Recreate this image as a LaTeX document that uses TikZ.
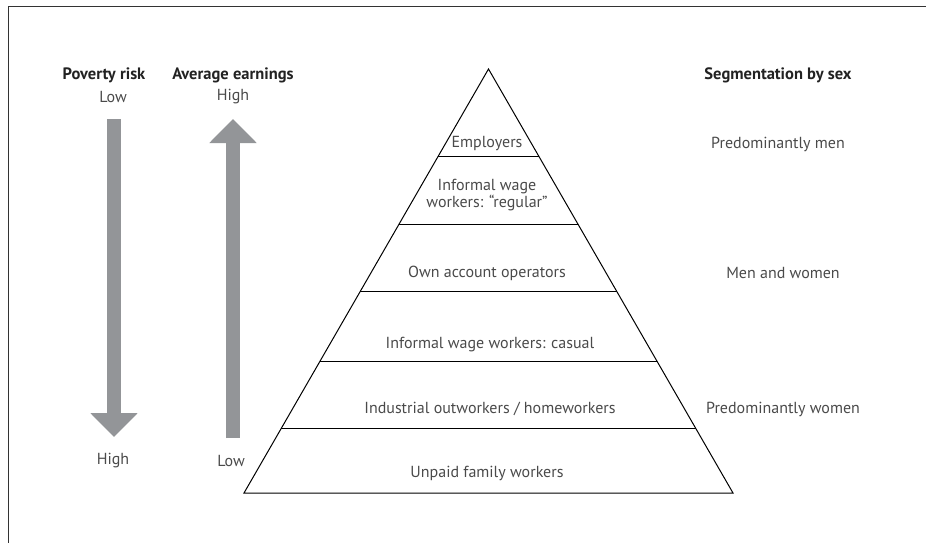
\documentclass[tikz,border=0pt]{standalone}
\usepackage{fontspec}
\setmainfont{PT Sans}
\usetikzlibrary{arrows.meta,calc}
\definecolor{arrowgray}{HTML}{939598}
\definecolor{txtgray}{HTML}{4A4A4A}
\definecolor{headgray}{HTML}{222222}
\tikzset{
  lbl/.style={font=\fontsize{16}{17}\selectfont, text=txtgray, align=center, inner sep=0pt},
  head/.style={font=\bfseries\fontsize{16.5}{18}\selectfont, text=headgray, inner sep=0pt},
  bigarrow/.style={draw=arrowgray, line width=14pt, -{Triangle[width=46pt,length=24pt]}},
  pyr/.style={draw=black, line width=1pt, line join=miter},
  tier/.style={draw=black, line width=1pt}
}
\begin{document}
\begin{tikzpicture}[x=1pt,y=-1pt]
\useasboundingbox (0,0) rectangle (926,543);
% frame
\draw[line width=1pt, black!80] (8,543) -- (8,7) -- (926,7);
% headings
\node[head] (pov) at (104,75) {Poverty risk};
\node[lbl] (povlow) at (113,97) {Low};
\node[head] (avg) at (233,75) {Average earnings};
\node[lbl] (avghigh) at (233,97) {High};
\node[lbl] (povhigh) at (113,461) {High};
\node[lbl] (avglow) at (231,461) {Low};
\node[head] (seg) at (778,75) {Segmentation by sex};
% arrows
\coordinate (pa) at (114,119);
\coordinate (pb) at (114,437);
\coordinate (ea) at (233,438);
\coordinate (eb) at (233,119);
\draw[bigarrow] (pa) -- (pb);
\draw[bigarrow] (ea) -- (eb);
% pyramid
\coordinate (A) at (488.5,69);
\coordinate (BL) at (244,493);
\coordinate (BR) at (733,493);
\draw[pyr] (A) -- (BL) -- (BR) -- cycle;
\foreach \f [count=\i] in {0.2075,0.3656,0.5236,0.6887,0.8467}{
  \draw[tier] ($(A)!\f!(BL)$) -- ($(A)!\f!(BR)$);
}
% tier labels
\node[lbl] (t1) at (487,144) {Employers};
\node[lbl] (t2) at (487,195) {Informal wage\\workers: “regular”};
\node[lbl] (t3) at (487,273) {Own account operators};
\node[lbl] (t4) at (490,345) {Informal wage workers: casual};
\node[lbl] (t5) at (490,409) {Industrial outworkers / homeworkers};
\node[lbl] (t6) at (487,473) {Unpaid family workers};
% segmentation labels
\node[lbl] (s1) at (778,144) {Predominantly men};
\node[lbl] (s2) at (783,273) {Men and women};
\node[lbl] (s3) at (783,409) {Predominantly women};
\end{tikzpicture}
\end{document}
